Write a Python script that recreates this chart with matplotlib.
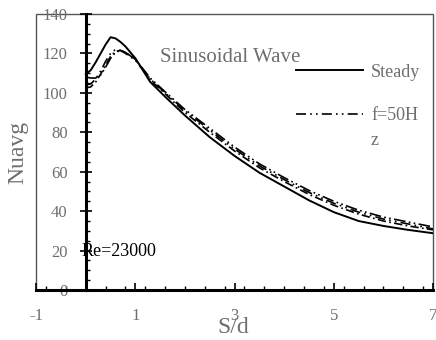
import matplotlib
matplotlib.use('Agg')
import matplotlib.pyplot as plt
from matplotlib.patches import Rectangle
from matplotlib.ticker import MultipleLocator, FixedLocator

plt.rcParams['font.family'] = ['Liberation Serif', 'DejaVu Serif']
plt.rcParams['axes.unicode_minus'] = False

# S/d positions and Nusselt number curves
sd = [0, 0.1, 0.2, 0.3, 0.4, 0.5, 0.6, 0.7, 0.8, 1.0, 1.3, 1.6, 2.0, 2.5,
      3.0, 3.5, 4.0, 4.5, 5.0, 5.5, 6.0, 6.5, 7.0]
steady = [109.4, 111.5, 115.5, 120, 124.5, 128.2, 127.6, 125.8, 123.5, 117.5, 105.5,
          98, 88.5, 77.5, 68, 59.5, 52.5, 45.5, 39.5, 35, 32.5, 30.5, 28.8]
f50_a = [104, 104.5, 107, 111, 116, 120, 122, 121.5, 120, 116.5, 107, 100,
         91, 81, 71.5, 63, 56, 49.5, 44, 39.5, 36, 33.5, 31]
f50_b = [102.5, 103, 105.5, 109.5, 114, 118.5, 121, 121.5, 120.5, 117, 106.5, 99.5,
         90, 80, 70.5, 62, 55, 48.5, 43, 38.5, 35, 32.5, 30.5]
f50_c = [108, 107.5, 107.5, 109, 113, 117.5, 120.5, 121.5, 120.5, 117, 107.5, 100.5,
         91.5, 82, 72.5, 64, 57, 50.5, 45, 40.5, 37, 34.5, 32]

gray = '#6e6e6e'
dashdotdot = (0, (6, 2.5, 1, 2.5, 1, 2.5))

fig = plt.figure(figsize=(4.36, 3.4), dpi=100)
ax = fig.add_axes([0.083, 0.147, 0.910, 0.812])

l1, = ax.plot(sd, steady, color='black', lw=1.4, label='Steady')
l2, = ax.plot(sd, f50_a, color='black', lw=1.2, linestyle=dashdotdot, label='f=50H\nz')
ax.plot(sd, f50_b, color='black', lw=1.2, linestyle=(0, (5, 2, 1, 2)))
ax.plot(sd, f50_c, color='black', lw=1.2, linestyle=(0, (7, 2, 1, 2, 1, 2)))

ax.set_xlim(-1, 7)
ax.set_ylim(0, 140)

# axis lines through the origin, thin frame round the box
ax.spines['left'].set_position(('data', 0))
ax.spines['left'].set_linewidth(2.2)
ax.spines['bottom'].set_linewidth(2.2)
ax.spines['top'].set_visible(False)
ax.spines['right'].set_visible(False)
ax.add_patch(Rectangle((0, 0), 1, 1, transform=ax.transAxes, fill=False,
                       edgecolor='#555555', lw=1.0, clip_on=False, zorder=0))

ax.xaxis.set_major_locator(FixedLocator([-1, 1, 3, 5, 7]))
ax.xaxis.set_minor_locator(MultipleLocator(0.4))
ax.yaxis.set_major_locator(MultipleLocator(20))
ax.yaxis.set_minor_locator(MultipleLocator(5))
ax.tick_params(axis='x', which='major', direction='in', length=5, width=1.2,
               pad=13, labelsize=12, labelcolor=gray)
ax.tick_params(axis='x', which='minor', direction='in', length=3, width=1.0)
ax.tick_params(axis='y', which='major', direction='inout', length=8, width=1.2,
               pad=9, labelsize=12, labelcolor=gray)
ax.tick_params(axis='y', which='minor', direction='in', length=3, width=1.0)

ax.set_xlabel('S/d', fontsize=17, color=gray)
ax.xaxis.set_label_coords(0.496, -0.098)
ax.set_ylabel('Nuavg', fontsize=17, color=gray, va='center')
ax.yaxis.set_label_coords(-0.045, 0.5)

ax.text(1.5, 118, 'Sinusoidal Wave', fontsize=15, color=gray, va='center')
ax.text(-0.08, 19.3, 'Re=23000', fontsize=13, color='black', va='center')

leg = ax.legend(handles=[l1, l2], loc='upper left', bbox_to_anchor=(0.655, 0.82),
                frameon=False, fontsize=13, handlelength=3.7, handletextpad=0.45,
                labelspacing=1.45, borderpad=0, borderaxespad=0)
for t in leg.get_texts():
    t.set_color(gray)
    t.set_linespacing(1.6)
# keep the dash-dot handle level with the first line of its wrapped label
h = leg.get_lines()[1]
h.set_ydata([y + 10.2 for y in h.get_ydata()])

fig.savefig('out.png', dpi=100)
